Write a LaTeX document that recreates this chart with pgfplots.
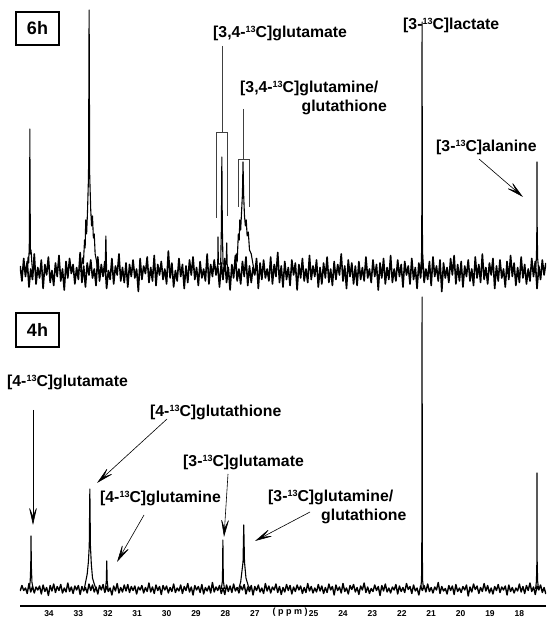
\documentclass[border=0pt]{standalone}
\usepackage{fontspec}
\setmainfont{Liberation Sans}
\usepackage{pgfplots}
\pgfplotsset{compat=1.18}
\usetikzlibrary{arrows.meta}
\newcommand{\tc}{\raisebox{5.5pt}{\fontsize{9}{9}\selectfont 13}C}
\newcommand{\lab}{\fontsize{15.8}{18}\selectfont\bfseries}
\begin{document}
\begin{tikzpicture}
\useasboundingbox (0,0) rectangle (546pt,617pt);
\begin{axis}[at={(20pt,11pt)}, anchor=south west, scale only axis, width=526pt, height=606pt,
 xmin=17.095, xmax=34.986, x dir=reverse, ymin=0, ymax=606,
 axis x line*=bottom, axis y line=none, x axis line style={line width=1.4pt,-},
 xtick={18,19,20,21,22,23,24,25,27,28,29,30,31,32,33,34}, major tick length=0pt,
 xticklabel style={font=\fontsize{8.5}{8.5}\selectfont\bfseries, anchor=north, inner sep=0pt, yshift=-4pt},
 /pgf/number format/assume math mode=true,
 every axis plot/.append style={black, no markers, line join=round}]
% 6h spectrum: noise
\addplot[line width=1.6pt] coordinates {
(34.98,340) (34.92,325) (34.86,347.5) (34.80,329.5) (34.74,344.5) (34.68,319) (34.62,337) (34.56,326.5) (34.50,352) (34.44,322)
(34.38,338.5) (34.32,328) (34.26,346) (34.20,317.5) (34.14,341.5) (34.08,331) (34.02,349) (33.96,323.5) (33.90,335.5) (33.84,320.5)
(33.78,343) (33.72,329.5) (33.66,350.5) (33.60,325) (33.54,337) (33.48,316) (33.42,344.5) (33.36,328) (33.30,347.5) (33.24,332.5)
(33.18,341.5) (33.12,322) (33.06,338.5) (33.00,326.5) (32.94,353.5) (32.88,323.5) (32.82,340) (32.76,319) (32.70,343) (32.64,331)
(32.58,346) (32.52,328) (32.46,337) (32.40,320.5) (32.34,349) (32.28,325) (32.22,341.5) (32.16,329.5) (32.10,344.5) (32.04,317.5)
(31.98,335.5) (31.92,326.5) (31.86,347.5) (31.80,322) (31.74,340) (31.68,331) (31.62,352) (31.56,325) (31.50,338.5) (31.44,323.5)
(31.38,343) (31.32,319) (31.26,341.5) (31.20,329.5) (31.14,346) (31.08,328) (31.02,337) (30.96,314.5) (30.90,347.5) (30.84,326.5)
(30.78,340) (30.72,332.5) (30.66,349) (30.60,323.5) (30.54,338.5) (30.48,325) (30.42,350.5) (30.36,320.5) (30.30,341.5) (30.24,331)
(30.18,344.5) (30.12,326.5) (30.06,337) (30.00,322) (29.94,355) (29.88,328) (29.82,343) (29.76,319) (29.70,335.5) (29.64,325)
(29.58,347.5) (29.52,329.5) (29.46,341.5) (29.40,317.5) (29.34,340) (29.28,323.5) (29.22,346) (29.16,331) (29.10,349) (29.04,326.5)
(28.98,338.5) (28.92,320.5) (28.86,344.5) (28.80,328) (28.74,337) (28.68,325) (28.62,352) (28.56,322) (28.50,341.5) (28.44,329.5)
(28.38,346) (28.32,331) (28.26,340) (28.20,319) (28.14,343) (28.08,326.5) (28.02,347.5) (27.96,323.5) (27.90,338.5) (27.84,316)
(27.78,341.5) (27.72,328) (27.66,350.5) (27.60,325) (27.54,337) (27.48,322) (27.42,344.5) (27.36,329.5) (27.30,349) (27.24,320.5)
(27.18,340) (27.12,323.5) (27.06,338.5) (27.00,331) (26.94,347.5) (26.88,317.5) (26.82,343) (26.76,326.5) (26.70,346) (26.64,328)
(26.58,337) (26.52,325) (26.46,349) (26.40,322) (26.34,341.5) (26.28,329.5) (26.22,353.5) (26.16,323.5) (26.10,340) (26.04,319)
(25.98,344.5) (25.92,326.5) (25.86,338.5) (25.80,320.5) (25.74,346) (25.68,331) (25.62,343) (25.56,316) (25.50,341.5) (25.44,328)
(25.38,347.5) (25.32,325) (25.26,337) (25.20,323.5) (25.14,350.5) (25.08,326.5) (25.02,340) (24.96,329.5) (24.90,346) (24.84,319)
(24.78,338.5) (24.72,322) (24.66,343) (24.60,328) (24.54,349) (24.48,323.5) (24.42,337) (24.36,320.5) (24.30,344.5) (24.24,326.5)
(24.18,341.5) (24.12,331) (24.06,352) (24.00,325) (23.94,340) (23.88,317.5) (23.82,346) (23.76,329.5) (23.70,343) (23.64,322)
(23.58,340) (23.52,320.5) (23.46,344.5) (23.40,326.5) (23.34,338.5) (23.28,325) (23.22,349) (23.16,328) (23.10,337) (23.04,323.5)
(22.98,346) (22.92,329.5) (22.86,341.5) (22.80,316) (22.74,343) (22.68,328) (22.62,347.5) (22.56,322) (22.50,338.5) (22.44,326.5)
(22.38,350.5) (22.32,323.5) (22.26,337) (22.20,325) (22.14,346) (22.08,329.5) (22.02,341.5) (21.96,319) (21.90,344.5) (21.84,331)
(21.78,340) (21.72,322) (21.66,347.5) (21.60,326.5) (21.54,338.5) (21.48,317.5) (21.42,343) (21.36,328) (21.30,352) (21.24,323.5)
(21.18,337) (21.12,326.5) (21.06,344.5) (21.00,320.5) (20.94,349) (20.88,329.5) (20.82,340) (20.76,325) (20.70,346) (20.64,314.5)
(20.58,343) (20.52,328) (20.46,338.5) (20.40,323.5) (20.34,347.5) (20.28,331) (20.22,350.5) (20.16,322) (20.10,341.5) (20.04,325)
(19.98,344.5) (19.92,319) (19.86,340) (19.80,329.5) (19.74,346) (19.68,325) (19.62,337) (19.56,320.5) (19.50,349) (19.44,328)
(19.38,341.5) (19.32,323.5) (19.26,352) (19.20,326.5) (19.14,338.5) (19.08,322) (19.02,343) (18.96,331) (18.90,347.5) (18.84,317.5)
(18.78,340) (18.72,325) (18.66,346) (18.60,328) (18.54,337) (18.48,319) (18.42,344.5) (18.36,326.5) (18.30,350.5) (18.24,329.5)
(18.18,343) (18.12,320.5) (18.06,338.5) (18.00,323.5) (17.94,349) (17.88,328) (17.82,341.5) (17.76,322) (17.70,337) (17.64,325)
(17.58,347.5) (17.52,329.5) (17.46,344.5) (17.40,317.5) (17.34,340) (17.28,326.5) (17.22,346) (17.16,331) (17.10,343)
};
% 6h spectrum: peaks
\addplot[line width=1.1pt] coordinates {(34.75,334) (34.71,349) (34.69,343) (34.67,360) (34.655,420) (34.65,477) (34.645,420) (34.63,352) (34.61,356) (34.58,342) (34.55,334)};
\addplot[line width=1.1pt] coordinates {(32.92,334) (32.86,348) (32.83,342) (32.79,366) (32.77,358) (32.75,386) (32.72,372) (32.69,394) (32.655,430) (32.635,596) (32.615,430) (32.58,396) (32.55,380) (32.52,390) (32.49,368) (32.46,372) (32.43,352) (32.39,346) (32.33,334)};
\addplot[line width=1.1pt] coordinates {(32.09,334) (32.065,370) (32.04,334)};
\addplot[line width=1.1pt] coordinates {(28.30,334) (28.26,342) (28.25,369) (28.24,342) (28.16,342) (28.135,380) (28.12,449) (28.105,380) (28.08,342) (27.97,342) (27.955,363) (27.94,342) (27.90,334)};
\addplot[line width=1.1pt] coordinates {(27.70,334) (27.63,352) (27.60,344) (27.56,372) (27.53,366) (27.51,386) (27.48,376) (27.45,394) (27.42,412) (27.40,444) (27.38,412) (27.35,390) (27.32,380) (27.29,386) (27.26,370) (27.22,374) (27.18,356) (27.12,352) (27.04,338)};
\addplot[line width=1.1pt] coordinates {(21.37,334) (21.33,346) (21.32,380) (21.31,584) (21.30,380) (21.29,346) (21.25,334)};
\addplot[line width=1.1pt] coordinates {(17.46,334) (17.42,348) (17.405,380) (17.40,444) (17.395,380) (17.38,348) (17.34,334)};
% 4h spectrum: noise
\addplot[line width=1.4pt] coordinates {
(34.98,15) (34.92,20.5) (34.86,15.5) (34.80,18) (34.74,12.5) (34.68,22.5) (34.62,14) (34.56,19.5) (34.50,13) (34.44,19)
(34.38,16) (34.32,20) (34.26,12) (34.20,21) (34.14,14.5) (34.08,18.5) (34.02,10.5) (33.96,20.5) (33.90,15) (33.84,22)
(33.78,13.5) (33.72,19.5) (33.66,15.5) (33.60,21.5) (33.54,13) (33.48,18) (33.42,14) (33.36,23) (33.30,14.5) (33.24,19)
(33.18,12.5) (33.12,20) (33.06,16) (33.00,20.5) (32.94,11.5) (32.88,19.5) (32.82,15) (32.76,18.5) (32.70,13) (32.64,22)
(32.58,15.5) (32.52,21) (32.46,14) (32.40,19) (32.34,12) (32.28,20.5) (32.22,16) (32.16,21.5) (32.10,13.5) (32.04,19.5)
(31.98,14.5) (31.92,18) (31.86,11) (31.80,20) (31.74,15) (31.68,22.5) (31.62,13) (31.56,18.5) (31.50,14) (31.44,21)
(31.38,15) (31.32,21.5) (31.26,13.5) (31.20,19.5) (31.14,15.5) (31.08,20) (31.02,12) (30.96,19) (30.90,16) (30.84,20.5)
(30.78,13) (30.72,18.5) (30.66,14.5) (30.60,23) (30.54,14) (30.48,19) (30.42,12.5) (30.36,21) (30.30,15.5) (30.24,19.5)
(30.18,11.5) (30.12,20.5) (30.06,16) (30.00,20) (29.94,13) (29.88,18.5) (29.82,14.5) (29.76,22) (29.70,13.5) (29.64,18)
(29.58,15) (29.52,21) (29.46,12.5) (29.40,19.5) (29.34,15.5) (29.28,22.5) (29.22,14) (29.16,19) (29.10,11) (29.04,20.5)
(28.98,16) (28.92,19.5) (28.86,13.5) (28.80,21.5) (28.74,12) (28.68,18.5) (28.62,15) (28.56,20) (28.50,13) (28.44,23.5)
(28.38,14) (28.32,19) (28.26,15.5) (28.20,20.5) (28.14,12.5) (28.08,18) (28.02,11.5) (27.96,21) (27.90,14.5) (27.84,20)
(27.78,13.5) (27.72,22) (27.66,15) (27.60,18.5) (27.54,13) (27.48,20) (27.42,16) (27.36,21.5) (27.30,12) (27.24,19)
(27.18,14.5) (27.12,20.5) (27.06,11) (27.00,19.5) (26.94,15.5) (26.88,21) (26.82,14) (26.76,18) (26.70,12.5) (26.64,22.5)
(26.58,15) (26.52,20) (26.46,13) (26.40,19) (26.34,16) (26.28,22) (26.22,13.5) (26.16,19.5) (26.10,11.5) (26.04,18.5)
(25.98,14) (25.92,21.5) (25.86,15.5) (25.80,20.5) (25.74,12) (25.68,19) (25.62,14.5) (25.56,21) (25.50,16) (25.44,20)
(25.38,12.5) (25.32,18.5) (25.26,13.5) (25.20,22.5) (25.14,15) (25.08,19.5) (25.02,13) (24.96,18) (24.90,14) (24.84,21.5)
(24.78,15) (24.72,20) (24.66,12.5) (24.60,18.5) (24.54,13.5) (24.48,22) (24.42,16) (24.36,19.5) (24.30,11) (24.24,21)
(24.18,15.5) (24.12,19) (24.06,13) (24.00,22.5) (23.94,14.5) (23.88,18) (23.82,12) (23.76,20.5) (23.70,16.5) (23.64,21.5)
(23.58,14) (23.52,18.5) (23.46,11.5) (23.40,20) (23.34,16) (23.28,23) (23.22,13.5) (23.16,19) (23.10,12.5) (23.04,17.5)
(22.98,14.5) (22.92,21) (22.86,15.5) (22.80,19.5) (22.74,10.5) (22.68,20.5) (22.62,15) (22.56,22) (22.50,14) (22.44,18)
(22.38,13) (22.32,19) (22.26,16) (22.20,21.5) (22.14,12) (22.08,20) (22.02,14.5) (21.96,18.5) (21.90,13.5) (21.84,22.5)
(21.78,16.5) (21.72,19.5) (21.66,12.5) (21.60,21) (21.54,15) (21.48,18) (21.42,11) (21.36,20) (21.30,15.5) (21.24,20.5)
(21.18,14) (21.12,22) (21.06,14.5) (21.00,18.5) (20.94,13) (20.88,19) (20.82,16) (20.76,23.5) (20.70,12.5) (20.64,19.5)
(20.58,15) (20.52,17.5) (20.46,12) (20.40,20.5) (20.34,15.5) (20.28,20) (20.22,11.5) (20.16,21.5) (20.10,14.5) (20.04,18)
(19.98,13.5) (19.92,19.5) (19.86,16) (19.80,21) (19.74,10) (19.68,19) (19.62,14) (19.56,22) (19.50,16.5) (19.44,20)
(19.38,12.5) (19.32,18.5) (19.26,14.5) (19.20,22.5) (19.14,15) (19.08,20.5) (19.02,13) (18.96,18) (18.90,12) (18.84,19.5)
(18.78,15.5) (18.72,21.5) (18.66,13.5) (18.60,19) (18.54,16) (18.48,20) (18.42,11) (18.36,21) (18.30,14.5) (18.24,18.5)
(18.18,13) (18.12,18) (18.06,15) (18.00,22) (17.94,14) (17.88,19.5) (17.82,12.5) (17.76,20.5) (17.70,15.5) (17.64,23)
(17.58,14.5) (17.52,19) (17.46,11.5) (17.40,20) (17.34,16) (17.28,21) (17.22,13.5) (17.16,18.5) (17.10,12)
};
% 4h spectrum: peaks
\addplot[line width=1.1pt] coordinates {(34.68,17) (34.64,24) (34.62,40) (34.61,70) (34.60,40) (34.58,24) (34.54,17)};
\addplot[line width=1.1pt] coordinates {(32.80,17) (32.74,26) (32.70,32) (32.66,44) (32.63,60) (32.61,117) (32.59,60) (32.56,42) (32.52,28) (32.46,22) (32.40,17)};
\addplot[line width=1.1pt] coordinates {(32.08,17) (32.05,25) (32.035,45) (32.02,25) (31.99,17)};
\addplot[line width=1.1pt] coordinates {(28.14,17) (28.10,25) (28.085,66) (28.07,25) (28.03,17)};
\addplot[line width=1.1pt] coordinates {(27.55,17) (27.48,24) (27.44,34) (27.40,44) (27.375,81) (27.35,44) (27.30,28) (27.22,20) (27.15,17)};
\addplot[line width=1.1pt] coordinates {(21.36,17) (21.33,25) (21.32,50) (21.31,309) (21.30,50) (21.29,25) (21.26,17)};
\addplot[line width=1.1pt] coordinates {(17.45,17) (17.42,25) (17.405,45) (17.40,133) (17.395,45) (17.38,25) (17.35,17)};
\end{axis}
% axis unit label
\node[anchor=base, inner sep=0pt, font=\fontsize{9}{9}\selectfont\bfseries] at (290pt,2.6pt) {(\hspace{2.5pt}p\hspace{2.5pt}p\hspace{2.5pt}m\hspace{2.5pt})};
% panel boxes
\draw[line width=1.3pt] (16pt,572pt) rectangle (59pt,605pt);
\node[font=\fontsize{18}{18}\selectfont\bfseries] at (37.5pt,588.5pt) {6h};
\draw[line width=1.3pt] (16pt,270pt) rectangle (59pt,304pt);
\node[font=\fontsize{18}{18}\selectfont\bfseries] at (37.5pt,287pt) {4h};
% 6h labels
\node[anchor=base west, inner sep=0pt] at (213pt,579pt) {\lab [3,4-\tc]glutamate};
\node[anchor=base west, inner sep=0pt] at (240pt,524pt) {\lab [3,4-\tc]glutamine/};
\node[anchor=base east, inner sep=0pt] at (387pt,505pt) {\lab glutathione};
\node[anchor=base west, inner sep=0pt] at (403pt,587pt) {\lab [3-\tc]lactate};
\node[anchor=base west, inner sep=0pt] at (436pt,465pt) {\lab [3-\tc]alanine};
% brackets
\draw[line width=0.8pt, black!75] (222pt,571pt) -- (222pt,485pt);
\draw[line width=0.8pt, black!75] (216pt,399pt) -- (216pt,485pt) -- (227pt,485pt) -- (227pt,401pt);
\draw[line width=0.8pt, black!75] (243pt,508pt) -- (243pt,458pt);
\draw[line width=0.8pt, black!75] (238pt,410pt) -- (238pt,458pt) -- (249pt,458pt) -- (249pt,410pt);
% arrows
\tikzset{ar/.style={line width=0.6pt, -{Stealth[length=20pt,width=9pt,inset=11pt]}}}
\draw[ar] (479pt,458pt) -- (523pt,420pt);
% 4h labels
\node[anchor=base west, inner sep=0pt] at (7pt,230pt) {\lab [4-\tc]glutamate};
\node[anchor=base west, inner sep=0pt] at (150pt,200pt) {\lab [4-\tc]glutathione};
\node[anchor=base west, inner sep=0pt] at (100pt,114pt) {\lab [4-\tc]glutamine};
\node[anchor=base west, inner sep=0pt] at (183pt,150pt) {\lab [3-\tc]glutamate};
\node[anchor=base west, inner sep=0pt] at (268pt,115pt) {\lab [3-\tc]glutamine/};
\node[anchor=base west, inner sep=0pt] at (321pt,96pt) {\lab glutathione};
\draw[ar] (33pt,207pt) -- (33pt,92pt);
\draw[ar] (167pt,198pt) -- (97pt,134pt);
\draw[ar] (144pt,102pt) -- (117pt,55pt);
\draw[ar] (228pt,143pt) -- (224pt,80pt);
\draw[ar] (310pt,105pt) -- (255pt,76pt);
\end{tikzpicture}
\end{document}
